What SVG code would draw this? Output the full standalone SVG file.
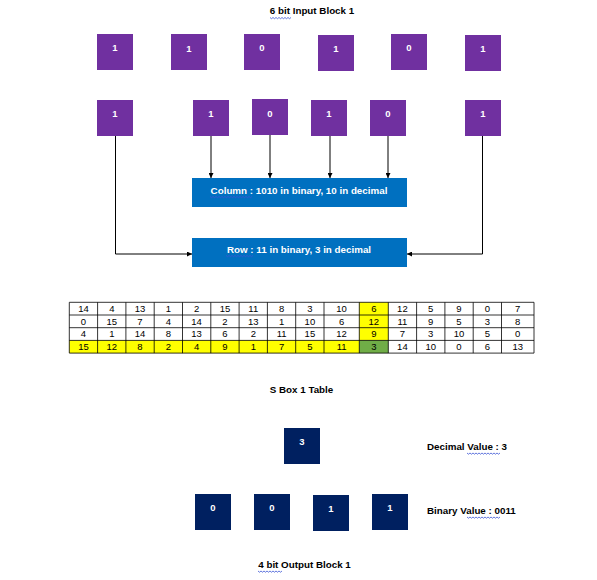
<svg xmlns="http://www.w3.org/2000/svg" width="597" height="580" viewBox="0 0 597 580">
<defs>
<style>
.bg{fill:#ffffff}
.pb{fill:#7030A0}
.bb{fill:#0070C0}
.nb{fill:#002060}
.bt{font-family:"Liberation Sans",Arial,sans-serif;font-weight:bold;font-size:9.5px;fill:#ffffff;text-anchor:middle}
.wt{font-family:"Liberation Sans",Arial,sans-serif;font-weight:bold;font-size:9.8px;fill:#ffffff;text-anchor:middle}
.lt{font-family:"Liberation Sans",Arial,sans-serif;font-weight:bold;font-size:9.8px;fill:#000000}
.ct{font-family:"Liberation Sans",Arial,sans-serif;font-size:9.5px;fill:#000000;text-anchor:middle}
.ln{fill:none;stroke:#000000;stroke-width:1}
.sq{fill:none;stroke:#3c55d4;stroke-width:0.8}
.grid{fill:none;stroke:#000000;stroke-width:0.8}
</style>
<marker id="ah" viewBox="0 0 10 10" refX="10" refY="5" markerWidth="5" markerHeight="5" orient="auto" markerUnits="userSpaceOnUse">
<path d="M0,0 L10,5 L0,10 z" fill="#000000"/>
</marker>
</defs>
<rect class="bg" x="0" y="0" width="597" height="580"/>

<g id="title-input">
<text class="lt" x="312" y="14" text-anchor="middle">6 bit Input Block 1</text>
<path class="sq" d="M270 17.5 l1.5 1.2 l1.5 -1.2 l1.5 1.2 l1.5 -1.2 l1.5 1.2 l1.5 -1.2 l1.5 1.2 l1.5 -1.2 l1.5 1.2 l1.5 -1.2 l1.5 1.2 l1.5 -1.2 l1.5 1.2 l1.5 -1.2"/>
</g>

<g id="in-top-1"><rect class="pb" x="97" y="34" width="36" height="36"/><text class="bt" x="115" y="51">1</text></g>
<g id="in-top-2"><rect class="pb" x="171" y="34" width="36" height="36"/><text class="bt" x="189" y="52">1</text></g>
<g id="in-top-3"><rect class="pb" x="244" y="34" width="36" height="36"/><text class="bt" x="262" y="51">0</text></g>
<g id="in-top-4"><rect class="pb" x="318" y="35" width="36" height="36"/><text class="bt" x="336" y="52">1</text></g>
<g id="in-top-5"><rect class="pb" x="391" y="34" width="36" height="36"/><text class="bt" x="409" y="51">0</text></g>
<g id="in-top-6"><rect class="pb" x="465" y="35" width="36" height="36"/><text class="bt" x="483" y="52">1</text></g>

<g id="in-bot-1"><rect class="pb" x="97" y="100" width="36" height="36"/><text class="bt" x="115" y="117">1</text></g>
<g id="in-bot-2"><rect class="pb" x="193" y="100" width="36" height="36"/><text class="bt" x="211" y="117">1</text></g>
<g id="in-bot-3"><rect class="pb" x="252" y="99" width="36" height="36"/><text class="bt" x="270" y="117">0</text></g>
<g id="in-bot-4"><rect class="pb" x="311" y="100" width="36" height="36"/><text class="bt" x="329" y="117">1</text></g>
<g id="in-bot-5"><rect class="pb" x="370" y="100" width="36" height="36"/><text class="bt" x="388" y="117">0</text></g>
<g id="in-bot-6"><rect class="pb" x="465" y="100" width="36" height="36"/><text class="bt" x="483" y="117">1</text></g>

<g id="column-box">
<rect class="bb" x="192" y="178" width="215" height="29"/>
<text class="wt" x="299" y="193.5">Column : 1010 in binary, 10 in decimal</text>
<path class="sq" d="M210 196.5 l1.5 1.2 l1.5 -1.2 l1.5 1.2 l1.5 -1.2 l1.5 1.2 l1.5 -1.2 l1.5 1.2 l1.5 -1.2 l1.5 1.2 l1.5 -1.2 l1.5 1.2 l1.5 -1.2 l1.5 1.2 l1.5 -1.2 l1.5 1.2 l1.5 -1.2 l1.5 1.2 l1.5 -1.2 l1.5 1.2 l1.5 -1.2 l1.5 1.2 l1.5 -1.2 l1.5 1.2 l1.5 -1.2 l1.5 1.2 l1.5 -1.2 l1.5 1.2 l1.5 -1.2"/>
</g>

<g id="row-box">
<rect class="bb" x="192" y="238" width="215" height="29"/>
<text class="wt" x="299" y="252.5">Row : 11 in binary, 3 in decimal</text>
<path class="sq" d="M226 255.5 l1.5 1.2 l1.5 -1.2 l1.5 1.2 l1.5 -1.2 l1.5 1.2 l1.5 -1.2 l1.5 1.2 l1.5 -1.2 l1.5 1.2 l1.5 -1.2 l1.5 1.2 l1.5 -1.2 l1.5 1.2 l1.5 -1.2 l1.5 1.2 l1.5 -1.2 l1.5 1.2 l1.5 -1.2"/>
</g>

<g id="connectors">
<path class="ln" d="M211 136 V178" marker-end="url(#ah)"/>
<path class="ln" d="M270 135 V178" marker-end="url(#ah)"/>
<path class="ln" d="M330 136 V178" marker-end="url(#ah)"/>
<path class="ln" d="M388 136 V178" marker-end="url(#ah)"/>
<path class="ln" d="M115.5 136 V254 H192" marker-end="url(#ah)"/>
<path class="ln" d="M482.5 136 V254 H407" marker-end="url(#ah)"/>
</g>

<g id="sbox-table">
<rect x="69.3" y="340.4" width="290" height="12.7" fill="#FFFF00"/>
<rect x="359.3" y="302.3" width="29" height="38.1" fill="#FFFF00"/>
<rect x="359.3" y="340.4" width="29" height="12.7" fill="#70AD47"/>
<path class="grid" d="M69.3 302.3 H534 M69.3 315 H534 M69.3 327.7 H534 M69.3 340.4 H534 M69.3 353.1 H534 M69.3 302.3 V353.1 M97.6 302.3 V353.1 M125.9 302.3 V353.1 M154.2 302.3 V353.1 M182.5 302.3 V353.1 M210.8 302.3 V353.1 M239.1 302.3 V353.1 M267.4 302.3 V353.1 M295.7 302.3 V353.1 M324 302.3 V353.1 M359.3 302.3 V353.1 M388.3 302.3 V353.1 M416.6 302.3 V353.1 M444.9 302.3 V353.1 M473.2 302.3 V353.1 M501.5 302.3 V353.1 M534 302.3 V353.1"/>
<g class="ct">
<text x="83.5" y="312">14</text><text x="111.8" y="312">4</text><text x="140" y="312">13</text><text x="168.3" y="312">1</text><text x="196.6" y="312">2</text><text x="225" y="312">15</text><text x="253.3" y="312">11</text><text x="281.6" y="312">8</text><text x="309.9" y="312">3</text><text x="341.6" y="312">10</text><text x="373.8" y="312">6</text><text x="402.4" y="312">12</text><text x="430.7" y="312">5</text><text x="459" y="312">9</text><text x="487.3" y="312">0</text><text x="517.7" y="312">7</text>
<text x="83.5" y="324.7">0</text><text x="111.8" y="324.7">15</text><text x="140" y="324.7">7</text><text x="168.3" y="324.7">4</text><text x="196.6" y="324.7">14</text><text x="225" y="324.7">2</text><text x="253.3" y="324.7">13</text><text x="281.6" y="324.7">1</text><text x="309.9" y="324.7">10</text><text x="341.6" y="324.7">6</text><text x="373.8" y="324.7">12</text><text x="402.4" y="324.7">11</text><text x="430.7" y="324.7">9</text><text x="459" y="324.7">5</text><text x="487.3" y="324.7">3</text><text x="517.7" y="324.7">8</text>
<text x="83.5" y="337.4">4</text><text x="111.8" y="337.4">1</text><text x="140" y="337.4">14</text><text x="168.3" y="337.4">8</text><text x="196.6" y="337.4">13</text><text x="225" y="337.4">6</text><text x="253.3" y="337.4">2</text><text x="281.6" y="337.4">11</text><text x="309.9" y="337.4">15</text><text x="341.6" y="337.4">12</text><text x="373.8" y="337.4">9</text><text x="402.4" y="337.4">7</text><text x="430.7" y="337.4">3</text><text x="459" y="337.4">10</text><text x="487.3" y="337.4">5</text><text x="517.7" y="337.4">0</text>
<text x="83.5" y="350.1">15</text><text x="111.8" y="350.1">12</text><text x="140" y="350.1">8</text><text x="168.3" y="350.1">2</text><text x="196.6" y="350.1">4</text><text x="225" y="350.1">9</text><text x="253.3" y="350.1">1</text><text x="281.6" y="350.1">7</text><text x="309.9" y="350.1">5</text><text x="341.6" y="350.1">11</text><text x="373.8" y="350.1">3</text><text x="402.4" y="350.1">14</text><text x="430.7" y="350.1">10</text><text x="459" y="350.1">0</text><text x="487.3" y="350.1">6</text><text x="517.7" y="350.1">13</text>
</g>
</g>

<g id="title-sbox">
<text class="lt" x="301.5" y="392.5" text-anchor="middle">S Box 1 Table</text>
</g>

<g id="decimal-box"><rect class="nb" x="284" y="428" width="36" height="36"/><text class="bt" x="302" y="445">3</text></g>
<g id="decimal-label">
<text class="lt" x="427" y="450">Decimal Value : 3</text>
<path class="sq" d="M467 453 l1.5 1.2 l1.5 -1.2 l1.5 1.2 l1.5 -1.2 l1.5 1.2 l1.5 -1.2 l1.5 1.2 l1.5 -1.2 l1.5 1.2 l1.5 -1.2 l1.5 1.2 l1.5 -1.2 l1.5 1.2 l1.5 -1.2 l1.5 1.2 l1.5 -1.2 l1.5 1.2 l1.5 -1.2 l1.5 1.2 l1.5 -1.2 l1.5 1.2 l1.5 -1.2"/>
</g>

<g id="out-1"><rect class="nb" x="195" y="494" width="36" height="36"/><text class="bt" x="213" y="511">0</text></g>
<g id="out-2"><rect class="nb" x="254" y="494" width="36" height="36"/><text class="bt" x="272" y="511">0</text></g>
<g id="out-3"><rect class="nb" x="313" y="495" width="36" height="36"/><text class="bt" x="331" y="512">1</text></g>
<g id="out-4"><rect class="nb" x="372" y="494" width="36" height="36"/><text class="bt" x="390" y="511">1</text></g>

<g id="binary-label">
<text class="lt" x="427" y="514">Binary Value : 0011</text>
<path class="sq" d="M467 517 l1.5 1.2 l1.5 -1.2 l1.5 1.2 l1.5 -1.2 l1.5 1.2 l1.5 -1.2 l1.5 1.2 l1.5 -1.2 l1.5 1.2 l1.5 -1.2 l1.5 1.2 l1.5 -1.2 l1.5 1.2 l1.5 -1.2 l1.5 1.2 l1.5 -1.2 l1.5 1.2 l1.5 -1.2 l1.5 1.2 l1.5 -1.2 l1.5 1.2 l1.5 -1.2"/>
</g>

<g id="title-output">
<text class="lt" x="304.5" y="568" text-anchor="middle">4 bit Output Block 1</text>
<path class="sq" d="M258 571 l1.5 1.2 l1.5 -1.2 l1.5 1.2 l1.5 -1.2 l1.5 1.2 l1.5 -1.2 l1.5 1.2 l1.5 -1.2 l1.5 1.2 l1.5 -1.2 l1.5 1.2 l1.5 -1.2 l1.5 1.2 l1.5 -1.2 l1.5 1.2 l1.5 -1.2"/>
</g>
</svg>
